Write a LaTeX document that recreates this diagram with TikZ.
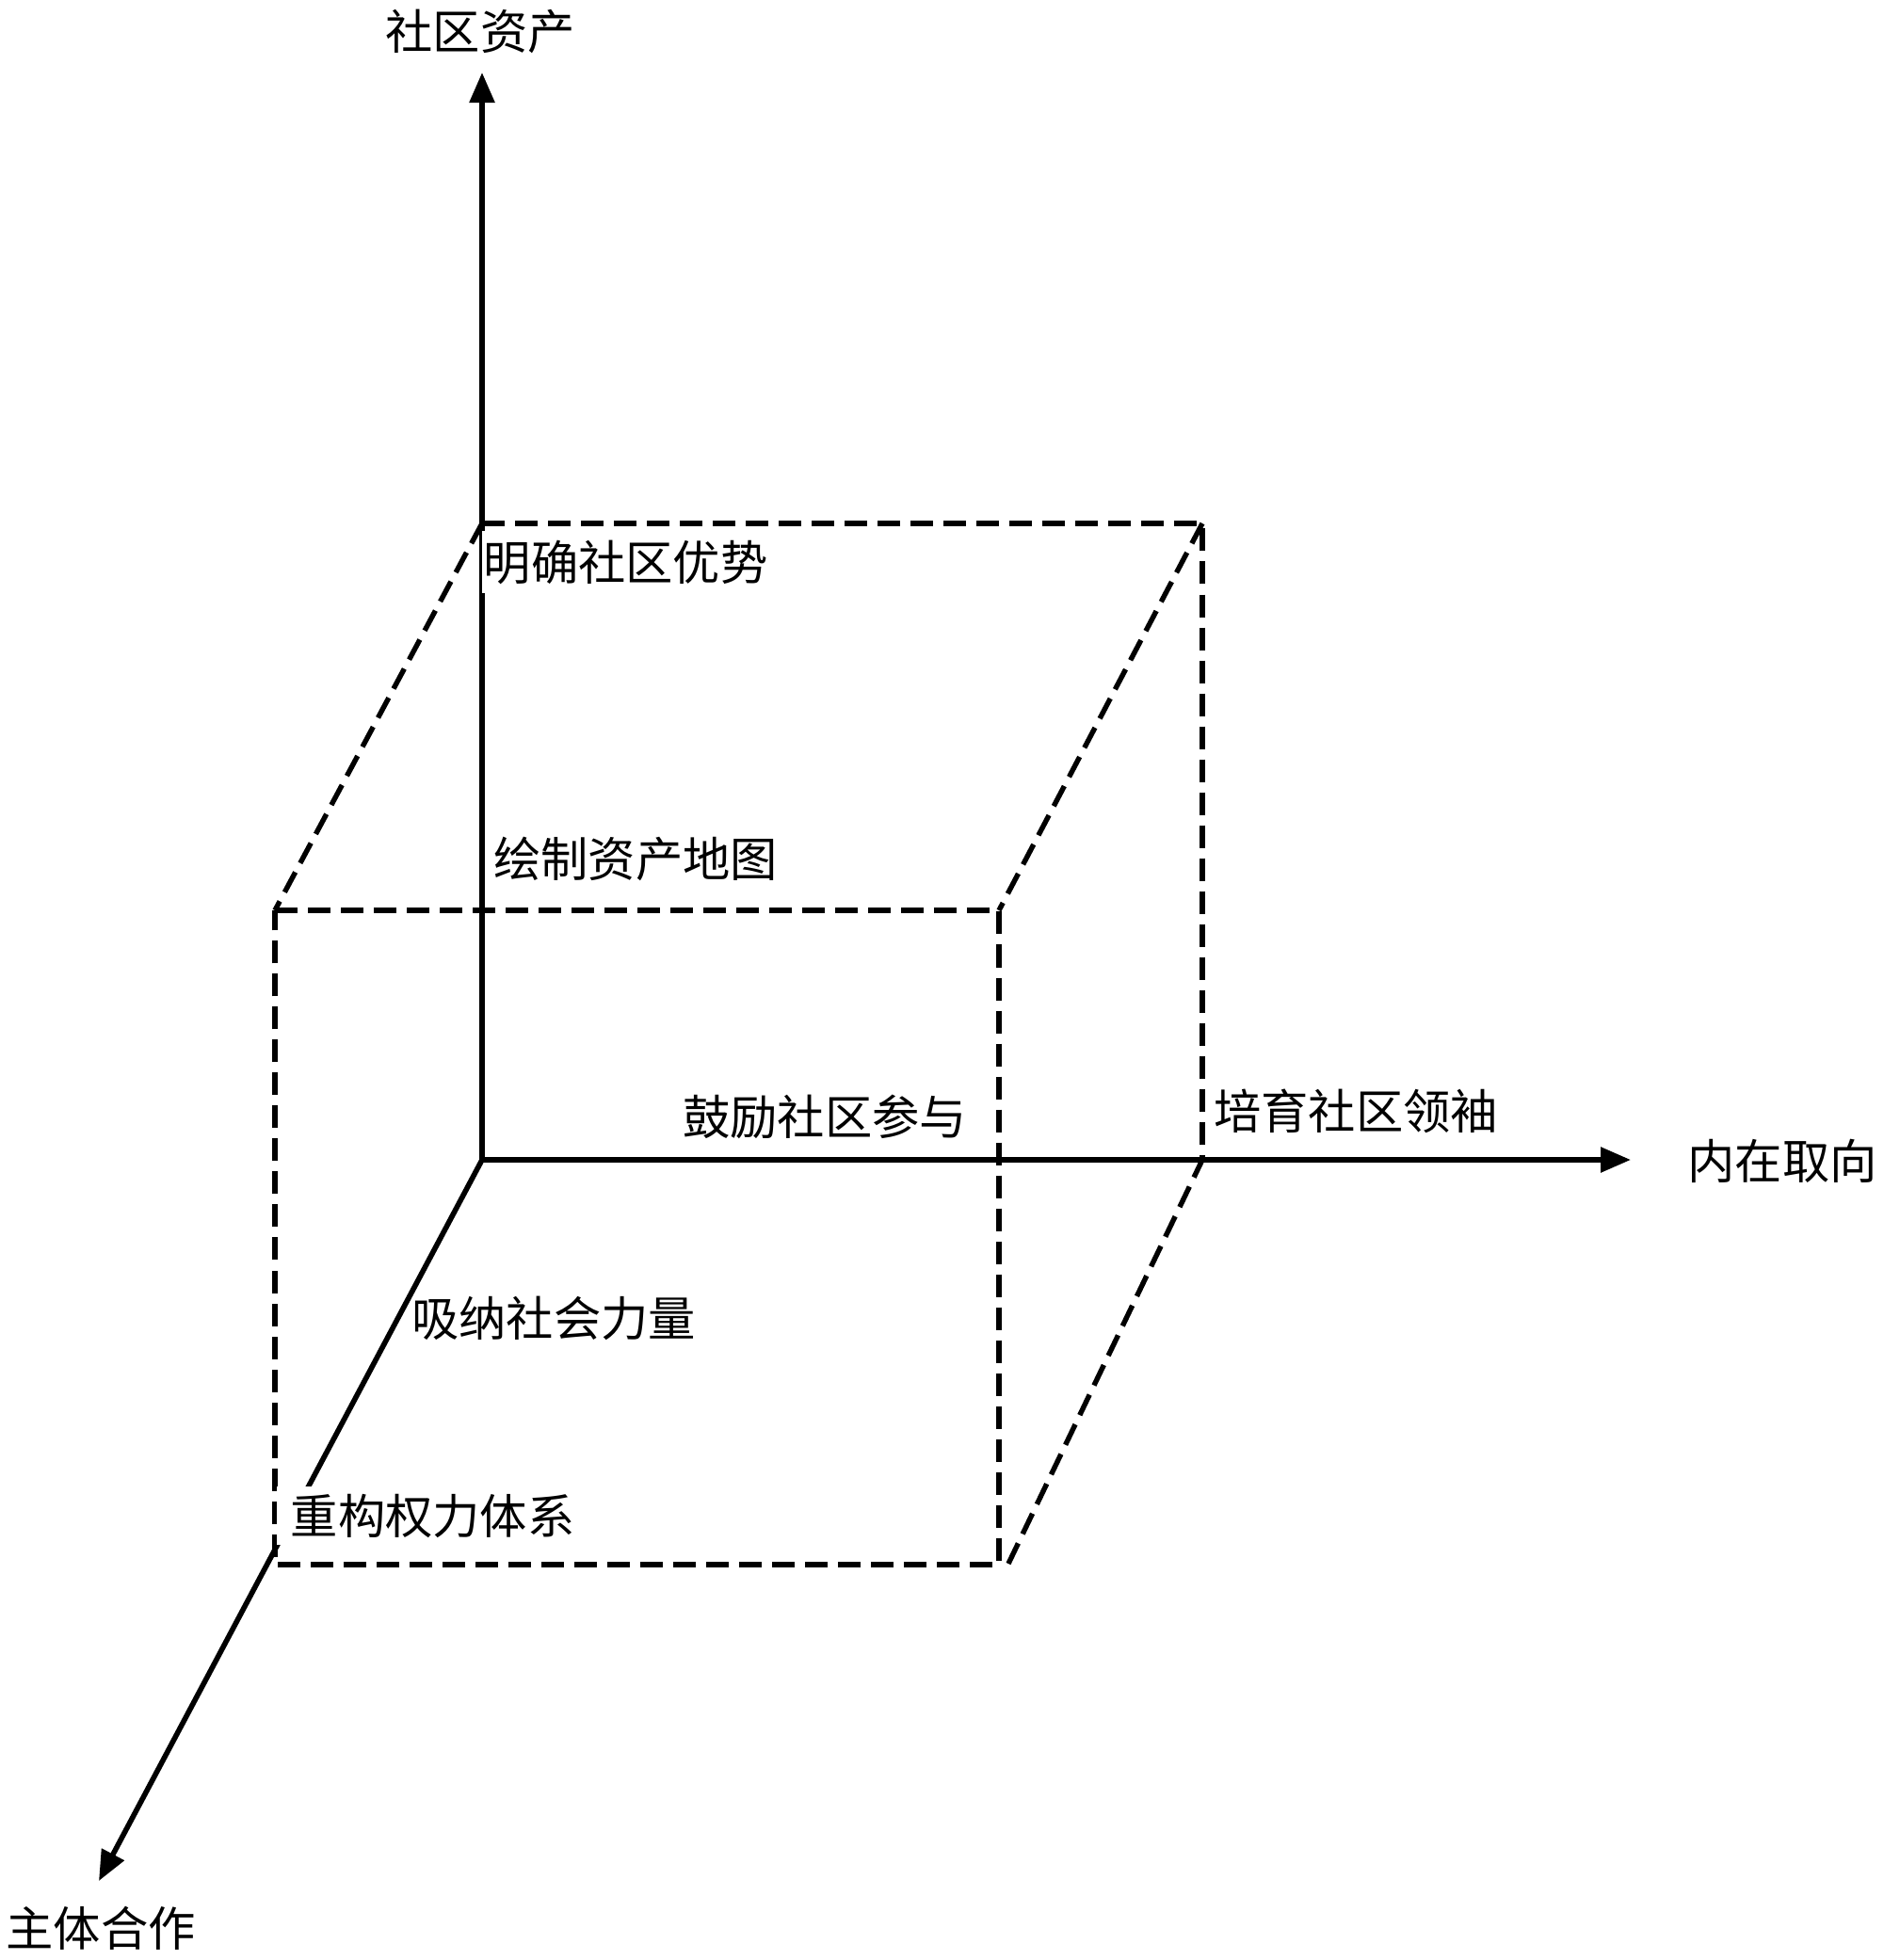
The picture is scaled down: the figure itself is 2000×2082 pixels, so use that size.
\documentclass[tikz,border=0pt]{standalone}
\usepackage{fontspec}
\setmainfont{Noto Sans CJK SC}
\usetikzlibrary{arrows.meta}
\begin{document}
\begin{tikzpicture}[x=0.01cm,y=-0.01cm,
  axis/.style={line width=0.056cm,-{Triangle[length=0.32cm,width=0.26cm]}},
  boxline/.style={line width=0.054cm,dash pattern=on 0.24cm off 0.11cm},
  lbl/.style={font=\fontsize{14.3}{17}\selectfont,inner sep=0pt},
  ]
\useasboundingbox[fill=white] (0,0) rectangle (2000,2082);
\coordinate (O) at (512,1232);
\coordinate (Ytip) at (512,77);
\coordinate (Xtip) at (1732,1232);
\coordinate (Ztip) at (105,1998);
\coordinate (BTL) at (512,556);
\coordinate (BTR) at (1277,556);
\coordinate (BBR) at (1277,1232);
\coordinate (FTL) at (292,967);
\coordinate (FTR) at (1061,967);
\coordinate (FBR) at (1061,1662);
\coordinate (FBL) at (292,1662);
\coordinate (FBRd) at (1071,1661);

\draw[axis] (O) -- (Ytip);
\draw[axis] (O) -- (Xtip);
\draw[axis] (O) -- (Ztip);
\draw[boxline] (BTL) -- (BTR) -- (BBR);
\draw[boxline] (BTL) -- (FTL);
\draw[boxline] (BTR) -- (FTR);
\draw[boxline] (FBRd) -- (BBR);
\draw[boxline] (FTL) -- (FTR) -- (FBR) -- (FBL) -- cycle;

\node[lbl] (ylab) at (510,33) {社区资产};
\node[lbl] (xlab) at (1893,1233) {内在取向};
\node[lbl] (zlab) at (107,2048) {主体合作};
\node[lbl,fill=white,anchor=west,inner xsep=0.02cm,inner ysep=0.1cm] (l1) at (511,597) {明确社区优势};
\node[lbl] (l2) at (675,912) {绘制资产地图};
\node[lbl] (l3) at (876,1186) {鼓励社区参与};
\node[lbl] (l4) at (1440,1180) {培育社区领袖};
\node[lbl] (l5) at (588,1400) {吸纳社会力量};
\node[lbl,fill=white,anchor=west,inner xsep=0.15cm,inner ysep=0.08cm] (l6) at (293,1610) {重构权力体系};
\end{tikzpicture}
\end{document}
